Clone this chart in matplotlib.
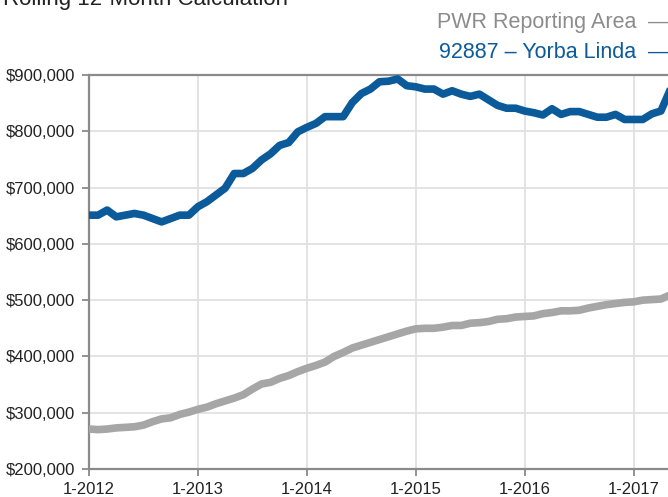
import matplotlib
matplotlib.use('Agg')
import matplotlib.pyplot as plt
import numpy as np

plt.rcParams['font.family'] = ['Liberation Sans', 'DejaVu Sans']

# monthly values from 1-2012, in thousands of dollars
yorba_linda = [651, 651, 660, 648, 651, 654, 651, 645, 639, 645, 651, 651,
               666, 675, 687, 699, 725, 725, 734, 749, 760, 775, 780, 799,
               807, 814, 826, 826, 826, 851, 867, 875, 888, 889, 893, 881,
               879, 875, 875, 866, 872, 866, 862, 866, 856, 846, 841, 841,
               836, 833, 829, 840, 830, 835, 835, 830, 825, 825, 830, 821,
               821, 821, 831, 836, 873]
pwr_area = [271, 270, 271, 273, 274, 275, 278, 284, 289, 291, 297, 301,
            306, 310, 316, 321, 326, 332, 342, 351, 354, 361, 366, 373,
            379, 384, 390, 400, 407, 415, 420, 425, 430, 435, 440, 445,
            449, 450, 450, 452, 455, 455, 459, 460, 462, 466, 467, 470,
            471, 472, 476, 478, 481, 481, 482, 486, 489, 492, 494, 496,
            497, 500, 501, 502, 509]
year_labels = ['1-2012', '1-2013', '1-2014', '1-2015', '1-2016', '1-2017']
y_ticks = [200000, 300000, 400000, 500000, 600000, 700000, 800000, 900000]

blue = '#0b5a99'
grey = '#a6a6a6'

months = np.arange(len(yorba_linda))

fig = plt.figure(figsize=(6.68, 4.97), dpi=100)
ax = fig.add_axes([89/668, 28/497, 581/668, 394/497])

ax.plot(months, np.array(pwr_area)*1000, color=grey, lw=5.5, solid_joinstyle='round', zorder=3)
ax.plot(months, np.array(yorba_linda)*1000, color=blue, lw=5.5, solid_joinstyle='round', zorder=3)

ax.set_xlim(0, 64)
ax.set_ylim(200000, 900000)
ax.set_xticks(np.arange(0, 61, 12))
ax.set_xticklabels(year_labels)
ax.set_yticks(y_ticks)
ax.set_yticklabels(['${:,}'.format(v) for v in y_ticks])

ax.grid(True, color='#e0e0e0', lw=1.3)
ax.set_axisbelow(True)
for s in ['left', 'bottom', 'top']:
    ax.spines[s].set_color('#8a8a8a')
    ax.spines[s].set_linewidth(1.6)
ax.spines['right'].set_visible(False)
ax.tick_params(axis='both', labelsize=12, color='#8a8a8a', length=5, width=1.3, labelcolor='#222222')
ax.tick_params(axis='y', pad=5)
ax.tick_params(axis='x', pad=4)

fig.text(0.005, 1 - 5/497, 'Rolling 12-Month Calculation', fontsize=16, va='baseline', ha='left', color='#222222')

fig.text(636/668, 1 - 28/497, 'PWR Reporting Area', fontsize=15.5, color='#8c8c8c', ha='right', va='baseline')
fig.text(648/668, 1 - 28/497, '\u2014', fontsize=15, color='#8c8c8c', ha='left', va='baseline')
fig.text(636/668, 1 - 58/497, '92887 \u2013 Yorba Linda', fontsize=15.5, color=blue, ha='right', va='baseline')
fig.text(648/668, 1 - 58/497, '\u2014', fontsize=15, color=blue, ha='left', va='baseline')

fig.savefig('out.png', dpi=100)
